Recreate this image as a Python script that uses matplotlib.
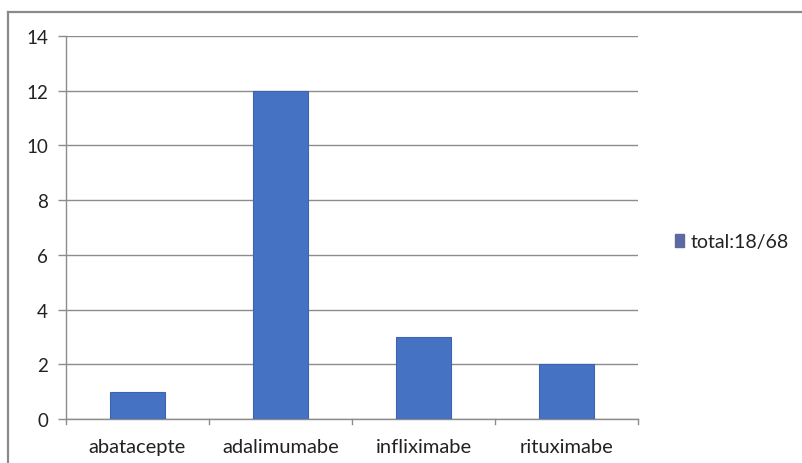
import matplotlib
matplotlib.use("Agg")
import matplotlib.pyplot as plt
from matplotlib.lines import Line2D
from matplotlib.patches import Patch

categories = ["abatacepte", "adalimumabe", "infliximabe", "rituximabe"]
values = [1, 12, 3, 2]
series_label = "total:18/68"
y_ticks = [0, 2, 4, 6, 8, 10, 12, 14]

plt.rcParams['font.family'] = ['Lato', 'DejaVu Sans']

W, H = 803, 464
fig = plt.figure(figsize=(W / 100, H / 100), dpi=100)
fig.patch.set_facecolor("white")

# outer chart frame
fx0 = 8 / W
fy1 = 1 - 13 / H
frame_color = "#8a8a8a"
fig.add_artist(Line2D([fx0, 1.0], [fy1, fy1], transform=fig.transFigure,
                      color=frame_color, lw=1.6))
fig.add_artist(Line2D([fx0, fx0], [0.0, fy1], transform=fig.transFigure,
                      color=frame_color, lw=1.6))

ax = fig.add_axes([66 / W, 1 - 420 / H, (638 - 66) / W, (420 - 37) / H])

bar_color = "#4672c4"
x = list(range(len(categories)))
ax.bar(x, values, width=0.39, color=bar_color, edgecolor="#3d64ad", linewidth=0.8,
       zorder=3, label=series_label)

ax.set_xlim(-0.5, len(categories) - 0.5)
ax.set_ylim(0, 14)
ax.set_yticks(y_ticks)
ax.set_yticklabels([str(v) for v in y_ticks])
ax.set_xticks(x)
ax.set_xticklabels(categories)

grid_color = "#8c8c8c"
ax.yaxis.grid(True, color=grid_color, linewidth=1.0, zorder=0)
ax.set_axisbelow(True)

for side in ["top", "right"]:
    ax.spines[side].set_visible(False)
for side in ["left", "bottom"]:
    ax.spines[side].set_color(grid_color)
    ax.spines[side].set_linewidth(1.0)

ax.tick_params(axis="y", length=6, width=1.0, color=grid_color,
               labelsize=13.5, labelcolor="#222222", pad=7)
ax.tick_params(axis="x", length=0, labelsize=14.5, labelcolor="#222222", pad=14)

# category boundary tick marks below the x axis
for b in [i - 0.5 for i in range(len(categories) + 1)]:
    ax.plot([b, b], [0, -0.2], color=grid_color, lw=1.0, clip_on=False, zorder=4)

handles = [Patch(facecolor="#5b6aa0", edgecolor="#5b6aa0", label=series_label)]
fig.legend(handles=handles, loc="center left",
           bbox_to_anchor=(657 / W, 1 - 243 / H), frameon=False,
           fontsize=14, handlelength=0.5, handleheight=0.6, handletextpad=0.35,
           labelcolor="#222222")

fig.savefig("out.png", dpi=100, facecolor="white")
